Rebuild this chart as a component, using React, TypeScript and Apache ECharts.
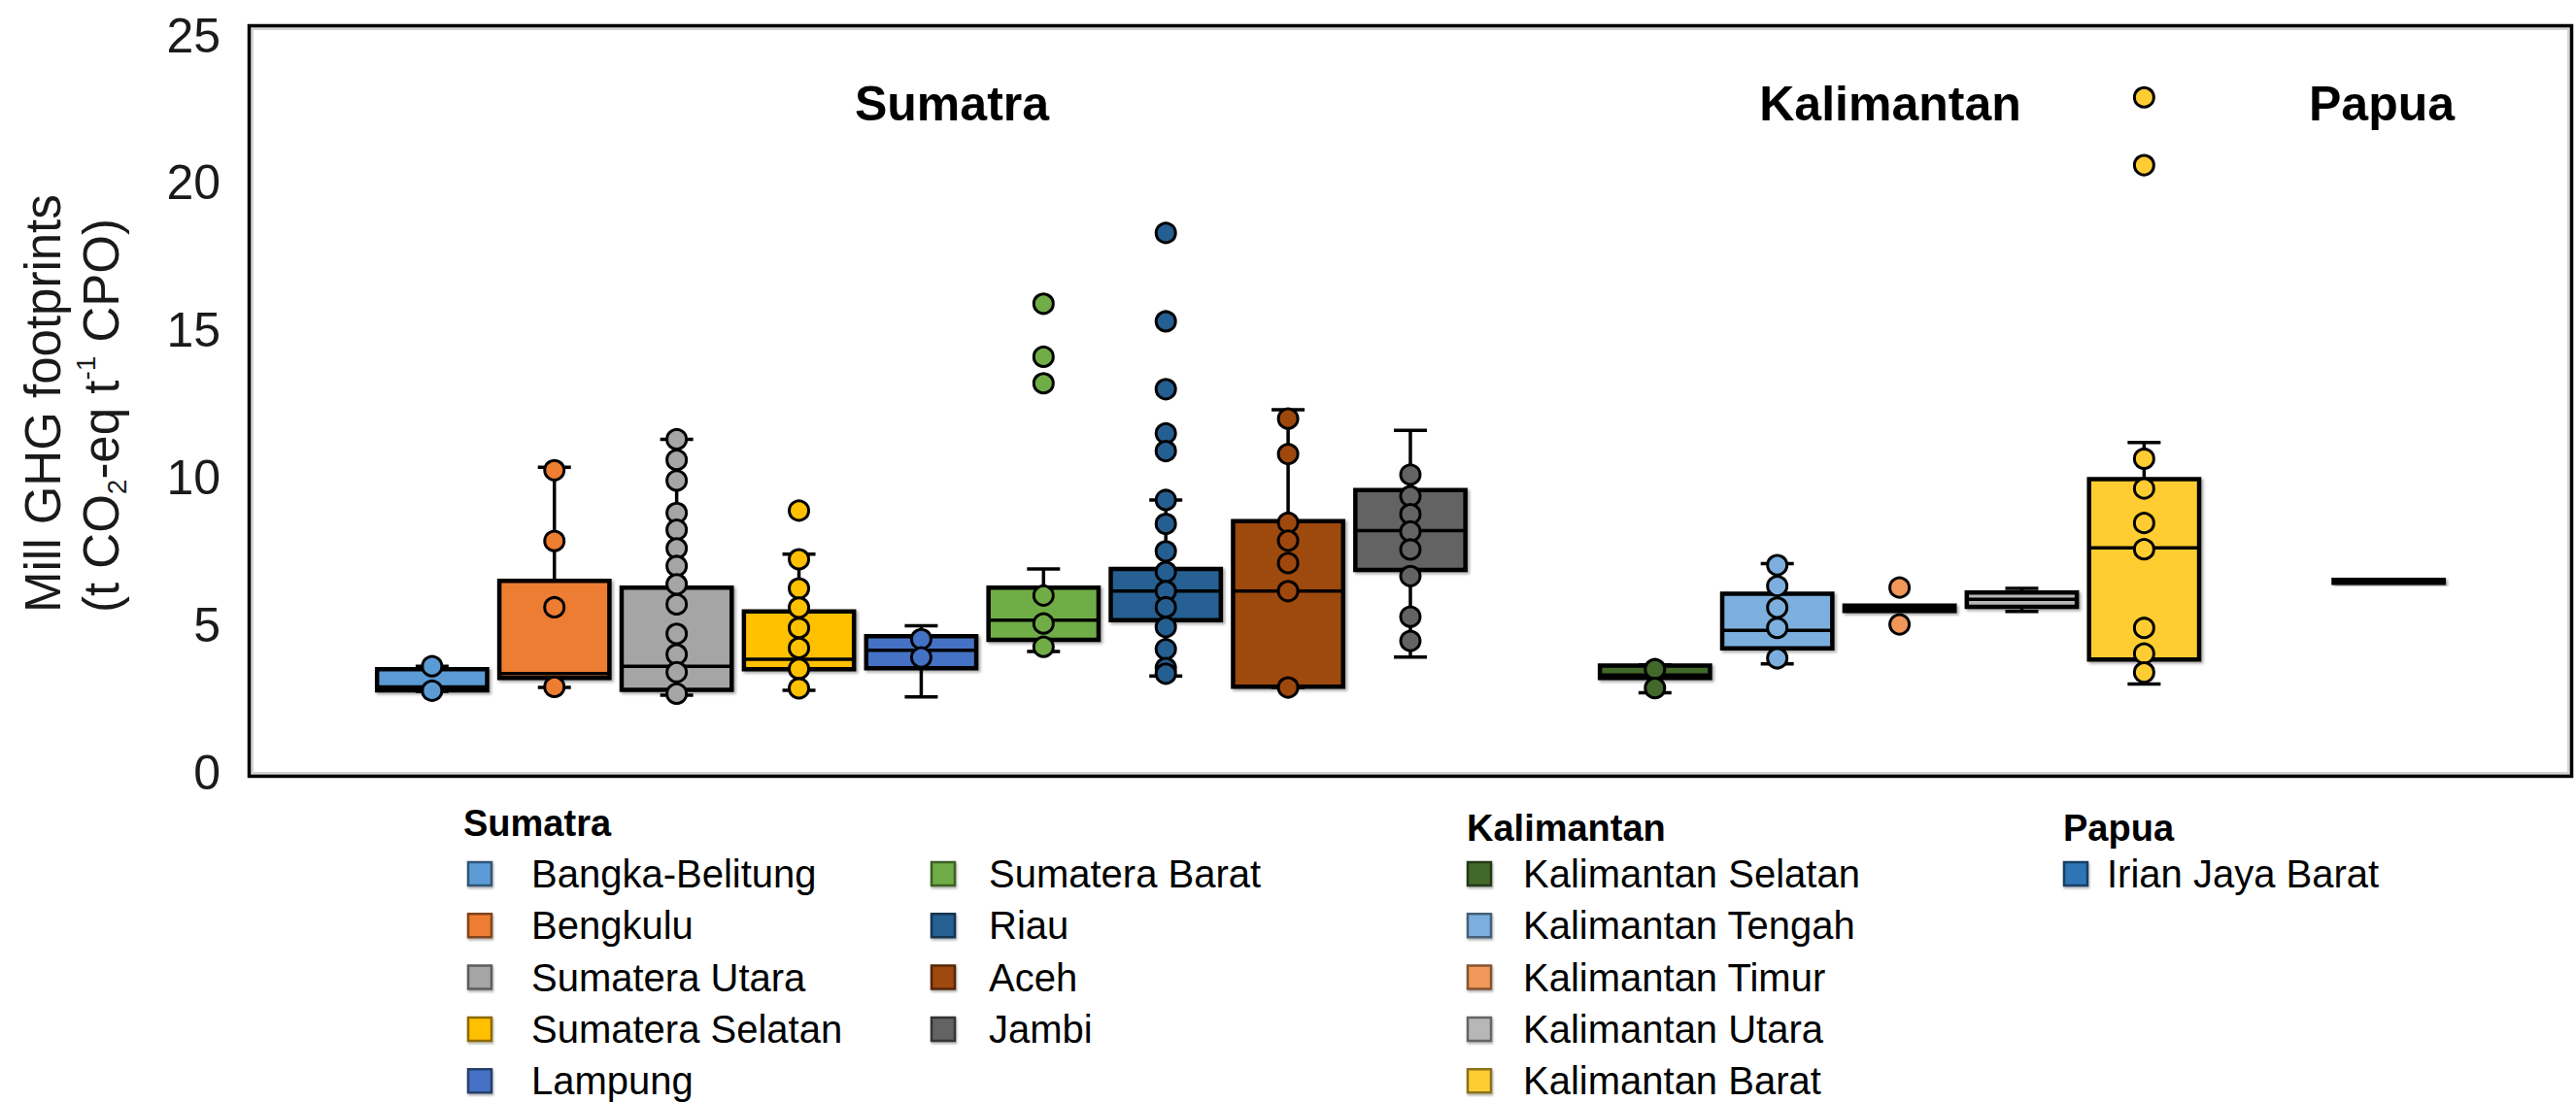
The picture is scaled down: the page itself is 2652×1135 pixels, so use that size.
import React, { useEffect, useRef } from 'react';
import * as echarts from 'echarts';

// ---------- data ----------
const categories = ['', 'Bangka-Belitung', 'Bengkulu', 'Sumatera Utara', 'Sumatera Selatan', 'Lampung', 'Sumatera Barat', 'Riau', 'Aceh', 'Jambi', ' ', 'Kalimantan Selatan', 'Kalimantan Tengah', 'Kalimantan Timur', 'Kalimantan Utara', 'Kalimantan Barat', '  ', 'Irian Jaya Barat', '   '];

const provinces = ['Bangka-Belitung', 'Bengkulu', 'Sumatera Utara', 'Sumatera Selatan', 'Lampung', 'Sumatera Barat', 'Riau', 'Aceh', 'Jambi', 'Kalimantan Selatan', 'Kalimantan Tengah', 'Kalimantan Timur', 'Kalimantan Utara', 'Kalimantan Barat', 'Irian Jaya Barat'];
const islandOf = [0, 0, 0, 0, 0, 0, 0, 0, 0, 1, 1, 1, 1, 1, 2];
const islands = ['Sumatra', 'Kalimantan', 'Papua'];

const colors = ['#5b9bd5', '#ed7d31', '#a5a5a5', '#ffc000', '#4472c4', '#70ad47', '#255e91', '#9e480e', '#636363', '#43682b', '#7cafdd', '#f1975a', '#b7b7b7', '#ffcd33', '#2e75b6'];

const mins = [2.75, 2.88, 2.62, 2.78, 2.56, 4.1, 3.27, 2.88, 3.91, 2.7, 3.68, 5.48, 5.46, 3.0, 6.43];
const q1s = [2.78, 3.2, 2.8, 3.5, 3.53, 4.5, 5.16, 2.91, 6.87, 3.2, 4.21, 5.48, 5.62, 3.83, 6.43];
const medians = [2.9, 3.35, 3.6, 3.84, 4.14, 5.16, 6.15, 6.15, 8.2, 3.3, 4.82, 5.57, 5.87, 7.62, 6.48];
const q3s = [3.5, 6.5, 6.27, 5.46, 4.62, 6.27, 6.9, 8.52, 9.58, 3.62, 6.06, 5.66, 6.1, 9.95, 6.53];
const maxs = [3.6, 10.35, 11.3, 7.4, 4.97, 6.9, 9.24, 12.3, 11.6, 3.65, 7.08, 5.66, 6.24, 11.19, 6.53];

const points = [
  [3.6, 2.77],
  [10.25, 7.85, 5.6, 2.9],
  [11.3, 10.6, 9.9, 8.8, 8.23, 7.6, 7.0, 6.38, 5.7, 4.7, 4.0, 3.4, 2.67],
  [8.88, 7.23, 6.24, 5.59, 4.9, 4.22, 3.51, 2.85],
  [4.52, 3.9],
  [15.9, 14.1, 13.2, 6.0, 5.05, 4.26],
  [18.3, 15.3, 13.0, 11.5, 10.9, 9.24, 8.43, 7.5, 6.8, 6.15, 5.6, 4.93, 4.18, 3.54, 3.35],
  [12.0, 10.8, 8.47, 7.86, 7.1, 6.15, 2.88],
  [10.1, 9.37, 8.76, 8.17, 7.56, 6.66, 5.28, 4.46],
  [3.5, 2.86],
  [7.03, 6.32, 5.59, 4.9, 3.87],
  [6.27, 5.02],
  [],
  [22.9, 20.6, 10.64, 9.63, 8.46, 7.57, 4.9, 4.03, 3.39],
  [],
];

const yTicks = { min: 0, max: 25, interval: 5 };
const yTitle = ['Mill GHG footprints', '(t CO{sub|2}-eq t{sup|-1} CPO)'];

// ---------- chart ----------
const FONT = '"Liberation Sans", Arial, sans-serif';

function darken(hex: string, f: number) {
  const n = parseInt(hex.slice(1), 16);
  const r = Math.round(((n >> 16) & 255) * f);
  const g = Math.round(((n >> 8) & 255) * f);
  const b = Math.round((n & 255) * f);
  return `rgb(${r},${g},${b})`;
}

export default function App() {
  const ref = useRef<HTMLDivElement>(null);

  useEffect(() => {
    if (!ref.current) return;
    const chart = echarts.init(ref.current, undefined, { renderer: 'svg' });

    const slotOf = (name: string) => categories.indexOf(name);

    const boxData = provinces.map((p, i) => [slotOf(p), mins[i], q1s[i], medians[i], q3s[i], maxs[i]]);
    const pointData: any[] = [];
    provinces.forEach((p, i) => {
      points[i].forEach((v) => {
        pointData.push({ value: [slotOf(p), v], itemStyle: { color: colors[i] } });
      });
    });

    // legend graphic
    const legendEls: any[] = [];
    const headerX = [477, 1510, 2124];
    const headerY = [848, 853, 853];
    islands.forEach((name, g) => {
      legendEls.push({
        type: 'text', x: headerX[g], y: headerY[g],
        style: { text: name, font: `bold 38px ${FONT}`, fill: '#000', textAlign: 'left', textVerticalAlign: 'middle' },
      });
    });
    const markerX = [482, 959, 1511, 2125];
    const textX = [547, 1018, 1568, 2169];
    const counters = [0, 0, 0];
    provinces.forEach((p, i) => {
      const g = islandOf[i];
      const k = counters[g]++;
      let col: number, row: number;
      if (g === 0) { col = k < 5 ? 0 : 1; row = k % 5; }
      else if (g === 1) { col = 2; row = k; }
      else { col = 3; row = k; }
      const cy = 900 + row * 53.3;
      legendEls.push({
        type: 'rect',
        shape: { x: markerX[col], y: cy - 12, width: 24, height: 24 },
        style: {
          fill: colors[i], stroke: darken(colors[i], 0.55), lineWidth: 2.5,
          shadowColor: 'rgba(0,0,0,0.3)', shadowBlur: 2, shadowOffsetX: 1, shadowOffsetY: 2,
        },
      });
      legendEls.push({
        type: 'text', x: textX[col], y: cy,
        style: { text: p, font: `40px ${FONT}`, fill: '#000', textAlign: 'left', textVerticalAlign: 'middle' },
      });
    });

    const option: any = {
      animation: false,
      backgroundColor: '#fff',
      grid: { left: 256, right: 4, top: 36.5, height: 759, containLabel: false },
      xAxis: {
        type: 'category', data: categories, boundaryGap: true,
        axisLine: { show: false }, axisTick: { show: false }, axisLabel: { show: false }, splitLine: { show: false },
      },
      yAxis: {
        type: 'value', min: yTicks.min, max: yTicks.max, interval: yTicks.interval,
        axisLine: { show: false }, axisTick: { show: false }, splitLine: { show: false },
        axisLabel: { fontSize: 50, fontFamily: FONT, color: '#1a1a1a', margin: 29 },
      },
      series: [
        {
          type: 'custom',
          name: 'boxes',
          data: boxData,
          encode: { x: 0, y: [1, 2, 3, 4, 5] },
          z: 2,
          renderItem: (params: any, api: any) => {
            const i = params.dataIndex;
            const x = api.value(0);
            const c = (v: number) => api.coord([x, v]);
            const cx = c(api.value(1))[0];
            const yMin = c(api.value(1))[1];
            const yQ1 = c(api.value(2))[1];
            const yMed = c(api.value(3))[1];
            const yQ3 = c(api.value(4))[1];
            const yMax = c(api.value(5))[1];
            const bw = api.size([1, 0])[0] * 0.9;
            const cap = 34;
            const ls = { stroke: '#000', lineWidth: 3.5 };
            return {
              type: 'group',
              children: [
                { type: 'line', shape: { x1: cx, y1: yMax, x2: cx, y2: yQ3 }, style: ls },
                { type: 'line', shape: { x1: cx, y1: yQ1, x2: cx, y2: yMin }, style: ls },
                { type: 'line', shape: { x1: cx - cap / 2, y1: yMax, x2: cx + cap / 2, y2: yMax }, style: ls },
                { type: 'line', shape: { x1: cx - cap / 2, y1: yMin, x2: cx + cap / 2, y2: yMin }, style: ls },
                {
                  type: 'rect',
                  shape: { x: cx - bw / 2, y: yQ3, width: bw, height: yQ1 - yQ3 },
                  style: {
                    fill: colors[i], stroke: '#000', lineWidth: 4.5,
                    shadowColor: 'rgba(0,0,0,0.35)', shadowBlur: 3, shadowOffsetX: 2, shadowOffsetY: 2,
                  },
                },
                { type: 'line', shape: { x1: cx - bw / 2, y1: yMed, x2: cx + bw / 2, y2: yMed }, style: ls },
              ],
            };
          },
        },
        {
          type: 'scatter',
          name: 'points',
          data: pointData,
          symbol: 'circle',
          symbolSize: 20,
          z: 3,
          itemStyle: { borderColor: '#000', borderWidth: 3, opacity: 1 },
        },
      ],
      graphic: [
        // plot frame
        { type: 'rect', z: 10, shape: { x: 259.5, y: 29.5, width: 2385, height: 767 }, style: { fill: 'none', stroke: '#d4d4d4', lineWidth: 3 } },
        { type: 'rect', z: 11, shape: { x: 256.5, y: 26.5, width: 2391, height: 773 }, style: { fill: 'none', stroke: '#000', lineWidth: 3.5 } },
        // island titles
        { type: 'text', x: 980, y: 107, style: { text: 'Sumatra', font: `bold 50px ${FONT}`, fill: '#000', textAlign: 'center', textVerticalAlign: 'middle' } },
        { type: 'text', x: 1946, y: 107, style: { text: 'Kalimantan', font: `bold 50px ${FONT}`, fill: '#000', textAlign: 'center', textVerticalAlign: 'middle' } },
        { type: 'text', x: 2452, y: 107, style: { text: 'Papua', font: `bold 50px ${FONT}`, fill: '#000', textAlign: 'center', textVerticalAlign: 'middle' } },
        // y axis title
        {
          type: 'text', x: 74, y: 631, rotation: Math.PI / 2,
          style: {
            text: yTitle.join('\n'),
            font: `51px ${FONT}`, fill: '#1a1a1a', textAlign: 'left', textVerticalAlign: 'middle', lineHeight: 60,
            rich: {
              sub: { fontSize: 28, fontFamily: FONT, lineHeight: 36, verticalAlign: 'bottom', fill: '#1a1a1a' },
              sup: { fontSize: 28, fontFamily: FONT, lineHeight: 36, verticalAlign: 'top', fill: '#1a1a1a' },
            },
          },
        },
        ...legendEls,
      ],
    };

    chart.setOption(option);
    return () => chart.dispose();
  }, []);

  return <div ref={ref} style={{ position: 'fixed', left: 0, top: 0, width: 2652, height: 1135, background: '#fff' }} />;
}
